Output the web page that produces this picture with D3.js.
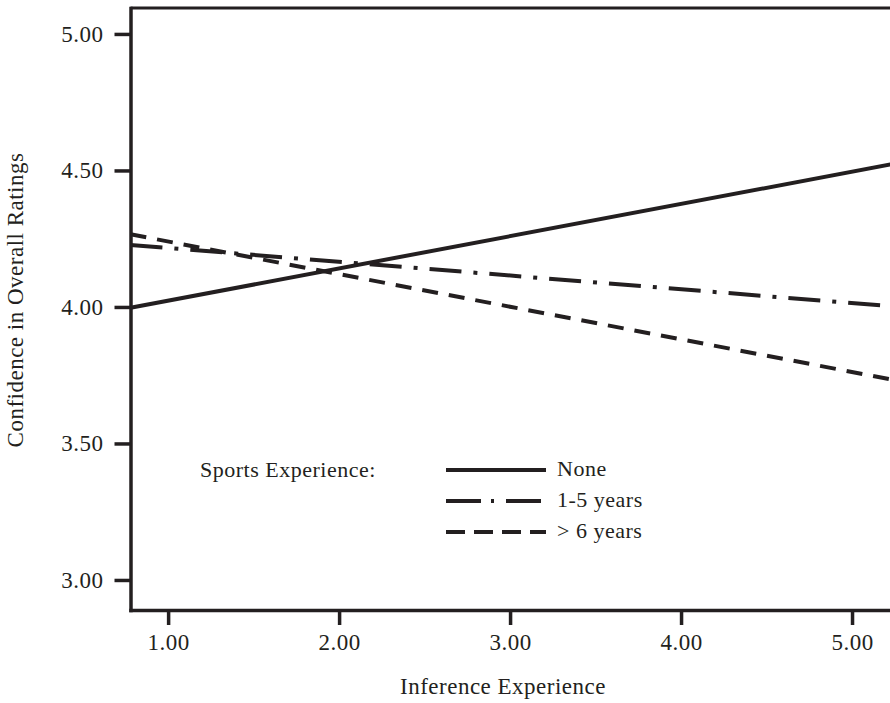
<!DOCTYPE html>
<html>
<head>
    <title>Confidence in Overall Ratings</title>
    <meta charset="UTF-8">
    <style>
        body {
            margin: 0;
            padding: 0;
            background-color: #ffffff;
        }
        text {
            font-family: "Liberation Serif", "DejaVu Serif", serif;
            fill: #231f20;
            letter-spacing: 0.5px;
        }
        .axis path, .axis line {
            stroke: #231f20;
            stroke-width: 3.5px;
        }
        .series {
            fill: none;
            stroke: #231f20;
            stroke-width: 4px;
        }
    </style>
    <script src="https://d3js.org/d3.v7.min.js"></script>
</head>
<body>
    <div id="chart"></div>

    <script>
        // x values at the two ends of the plot
        var xEnds = [0.78, 5.225];
        var noneVals = [3.997, 4.522];
        var midVals = [4.227, 4.003];
        var highVals = [4.266, 3.735];
        var seriesNames = ["None", "1-5 years", "> 6 years"];
        var xTicks = [1, 2, 3, 4, 5];
        var yTicks = [3, 3.5, 4, 4.5, 5];

        var dashes = ["none", "32,12,4,12", "16,11"];
        var legendDashes = ["none", "35,10,3,12", "19,9"];

        var width = 890, height = 703;
        var plotLeft = 130.5, plotTop = 8, plotRight = 890.5, plotBottom = 610;

        var x = d3.scaleLinear().domain([0.78, 5.225]).range([plotLeft, plotRight]);
        var y = d3.scaleLinear().domain([2.89, 5.095]).range([plotBottom, plotTop]);

        var svg = d3.select("#chart").append("svg")
            .attr("width", width)
            .attr("height", height);

        // top frame
        svg.append("line")
            .attr("x1", x(0.78)).attr("x2", x(5.225))
            .attr("y1", y(5.095)).attr("y2", y(5.095))
            .attr("stroke", "#231f20")
            .attr("stroke-width", 3);

        var series = [noneVals, midVals, highVals];
        var line = d3.line()
            .x(function(d, i) { return x(xEnds[i]); })
            .y(function(d) { return y(d); });

        svg.selectAll(".series")
            .data(series)
            .enter().append("path")
            .attr("class", "series")
            .attr("d", function(d) { return line(d); })
            .attr("stroke-dasharray", function(d, i) { return dashes[i]; });

        svg.append("g")
            .attr("class", "axis")
            .attr("transform", "translate(" + plotLeft + ",0)")
            .call(d3.axisLeft(y).tickValues(yTicks).tickFormat(d3.format(".2f"))
                .tickSize(16).tickSizeOuter(0).tickPadding(11));

        svg.append("g")
            .attr("class", "axis")
            .attr("transform", "translate(0," + plotBottom + ")")
            .call(d3.axisBottom(x).tickValues(xTicks).tickFormat(d3.format(".2f"))
                .tickSize(15).tickSizeOuter(0).tickPadding(9));

        svg.selectAll(".axis text")
            .style("font-size", "23px")
            .style("font-family", "'Liberation Serif', serif")
            .attr("fill", "#231f20");
        svg.selectAll(".axis path").attr("stroke-linecap", "square");

        svg.append("text")
            .attr("x", 503)
            .attr("y", 694)
            .attr("text-anchor", "middle")
            .style("font-size", "23px")
            .text("Inference Experience");

        svg.append("text")
            .attr("transform", "translate(23,300) rotate(-90)")
            .attr("text-anchor", "middle")
            .style("font-size", "23px")
            .text("Confidence in Overall Ratings");

        // legend
        svg.append("text")
            .attr("x", 200)
            .attr("y", 477)
            .style("font-size", "22px")
            .text("Sports Experience:");

        var legend = svg.selectAll(".legend")
            .data(seriesNames)
            .enter().append("g")
            .attr("class", "legend")
            .attr("transform", function(d, i) { return "translate(0," + (470 + i * 31) + ")"; });

        legend.append("line")
            .attr("x1", 446).attr("x2", 546)
            .attr("y1", 0).attr("y2", 0)
            .attr("stroke", "#231f20")
            .attr("stroke-width", 4)
            .attr("stroke-dasharray", function(d, i) { return legendDashes[i]; });

        legend.append("text")
            .attr("x", 557)
            .attr("y", 6)
            .style("font-size", "22px")
            .text(function(d) { return d; });
    </script>
</body>
</html>
